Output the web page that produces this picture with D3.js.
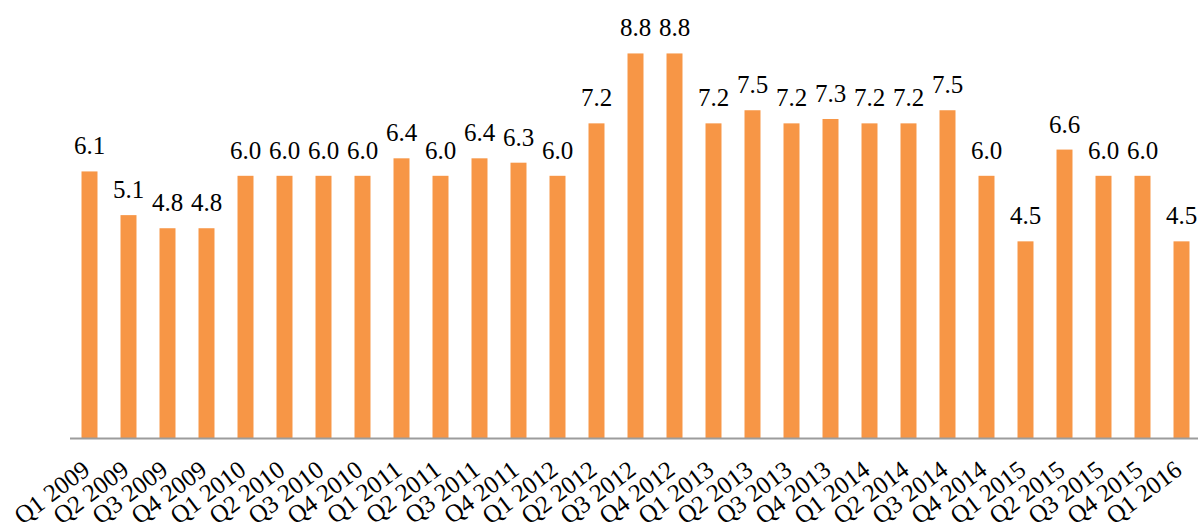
<!DOCTYPE html>
<html>
<head>
<meta charset="utf-8">
<script src="https://cdn.jsdelivr.net/npm/d3@7"></script>
<style>
  body { margin: 0; background: #fff; }
  svg { display: block; }
  text { font-family: "Liberation Serif", "Times New Roman", serif; fill: #000; }
</style>
</head>
<body>
<div id="chart"></div>
<script>
// quarters shown on the x axis
const quarters = ["Q1 2009", "Q2 2009", "Q3 2009", "Q4 2009",
                  "Q1 2010", "Q2 2010", "Q3 2010", "Q4 2010",
                  "Q1 2011", "Q2 2011", "Q3 2011", "Q4 2011",
                  "Q1 2012", "Q2 2012", "Q3 2012", "Q4 2012",
                  "Q1 2013", "Q2 2013", "Q3 2013", "Q4 2013",
                  "Q1 2014", "Q2 2014", "Q3 2014", "Q4 2014",
                  "Q1 2015", "Q2 2015", "Q3 2015", "Q4 2015",
                  "Q1 2016"];
// value for each quarter
const values = [6.1, 5.1, 4.8, 4.8,
                6.0, 6.0, 6.0, 6.0,
                6.4, 6.0, 6.4, 6.3,
                6.0, 7.2, 8.8, 8.8,
                7.2, 7.5, 7.2, 7.3,
                7.2, 7.2, 7.5, 6.0,
                4.5, 6.6, 6.0, 6.0,
                4.5];
const yDomain = [0, 10];

const width = 1198, height = 529;
const baseY = 438;

const data = quarters.map(function(q, i) { return { q: q, v: values[i] }; });

const svg = d3.select("#chart")
  .append("svg")
  .attr("width", width)
  .attr("height", height);

const x = d3.scaleBand()
  .domain(quarters)
  .range([70, 70 + 39 * quarters.length])
  .paddingInner(0.59)
  .paddingOuter(0.295);

const y = d3.scaleLinear()
  .domain(yDomain)
  .range([baseY, 1]);

// bars
svg.selectAll("rect.bar")
  .data(data)
  .enter().append("rect")
  .attr("class", "bar")
  .attr("x", function(d) { return x(d.q); })
  .attr("y", function(d) { return y(d.v); })
  .attr("width", x.bandwidth())
  .attr("height", function(d) { return baseY - y(d.v); })
  .attr("fill", "#F79646");

// value labels
svg.selectAll("text.val")
  .data(data)
  .enter().append("text")
  .attr("class", "val")
  .attr("x", function(d) { return x(d.q) + x.bandwidth() / 2; })
  .attr("y", function(d) { return y(d.v) - 17; })
  .attr("text-anchor", "middle")
  .attr("font-size", 25)
  .text(function(d) { return d.v.toFixed(1); });

// x axis
const xAxis = d3.axisBottom(x).tickSize(0).tickPadding(0);
const gx = svg.append("g")
  .attr("transform", "translate(0," + baseY + ")")
  .call(xAxis);
gx.select(".domain")
  .attr("d", "M70,0.5H" + width)
  .attr("stroke", "#9c9c9c")
  .attr("stroke-width", 2);
gx.selectAll(".tick text")
  .attr("font-size", 25)
  .attr("fill", "#000")
  .attr("text-anchor", "end")
  .attr("dy", null)
  .attr("y", null)
  .attr("transform", "translate(2,35) rotate(-37)");
</script>
</body>
</html>
